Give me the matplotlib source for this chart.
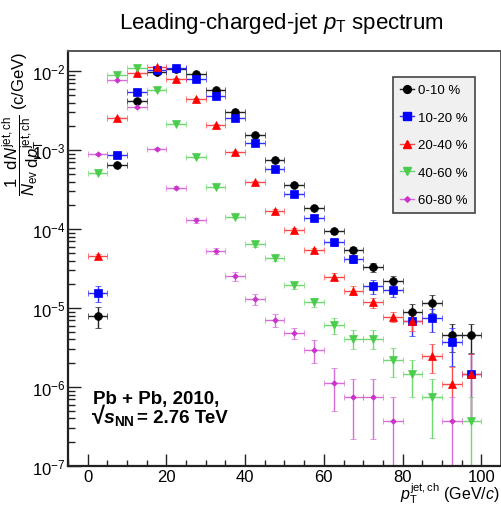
import numpy as np
import matplotlib
matplotlib.use("Agg")
import matplotlib.pyplot as plt
from matplotlib.lines import Line2D
from matplotlib.ticker import LogLocator, MultipleLocator, NullFormatter, FuncFormatter

plt.rcParams['font.family'] = ['Liberation Sans', 'DejaVu Sans']
plt.rcParams['mathtext.fontset'] = 'custom'
plt.rcParams['mathtext.rm'] = 'Liberation Sans'
plt.rcParams['mathtext.it'] = 'Liberation Sans:italic'
plt.rcParams['mathtext.bf'] = 'Liberation Sans:bold'
plt.rcParams['mathtext.bfit'] = 'Liberation Sans:italic:bold'

# bin centres (GeV/c), 5 GeV wide bins
pt = [2.5, 7.5, 12.5, 17.5, 22.5, 27.5, 32.5, 37.5, 42.5, 47.5,
      52.5, 57.5, 62.5, 67.5, 72.5, 77.5, 82.5, 87.5, 92.5, 97.5]
bin_half = 2.5

labels = ['0-10 %', '10-20 %', '20-40 %', '40-60 %', '60-80 %']

y_0_10 = [8.0e-6, 6.5e-4, 4.2e-3, 9.7e-3, 1.05e-2, 9.1e-3, 5.7e-3, 3.0e-3, 1.55e-3, 7.6e-4,
          3.6e-4, 1.86e-4, 9.4e-5, 5.5e-5, 3.3e-5, 2.2e-5, 8.8e-6, 1.17e-5, 4.5e-6, 4.5e-6]
e_0_10 = [0.30, 0.02, 0.01, 0.01, 0.01, 0.01, 0.01, 0.015, 0.02, 0.03,
          0.04, 0.05, 0.07, 0.09, 0.12, 0.17, 0.28, 0.25, 0.38, 0.40]

y_10_20 = [1.55e-5, 8.6e-4, 5.4e-3, 1.02e-2, 1.11e-2, 8.0e-3, 4.9e-3, 2.55e-3, 1.22e-3, 5.7e-4,
           2.8e-4, 1.39e-4, 6.8e-5, 4.2e-5, 1.9e-5, 1.67e-5, 6.8e-6, 7.4e-6, 3.7e-6, 1.48e-6]
e_10_20 = [0.22, 0.03, 0.01, 0.01, 0.01, 0.01, 0.015, 0.02, 0.03, 0.04,
           0.05, 0.07, 0.09, 0.12, 0.20, 0.18, 0.35, 0.33, 0.50, 0.75]

y_20_40 = [4.6e-5, 2.57e-3, 9.4e-3, 1.12e-2, 8.0e-3, 4.5e-3, 2.1e-3, 9.5e-4, 4.0e-4, 1.7e-4,
           9.8e-5, 5.4e-5, 2.5e-5, 1.66e-5, 1.18e-5, 7.8e-6, 6.9e-6, 2.5e-6, 1.08e-6, 1.48e-6]
e_20_40 = [0.05, 0.01, 0.01, 0.01, 0.01, 0.01, 0.015, 0.02, 0.03, 0.05,
           0.06, 0.08, 0.10, 0.13, 0.15, 0.15, 0.25, 0.40, 0.65, 0.75]

y_40_60 = [5.1e-4, 8.9e-3, 1.10e-2, 5.7e-3, 2.16e-3, 8.1e-4, 3.4e-4, 1.44e-4, 6.4e-5, 4.3e-5,
           1.94e-5, 1.18e-5, 6.1e-6, 4.1e-6, 4.1e-6, 2.23e-6, 1.48e-6, 7.5e-7, np.nan, 3.7e-7]
e_40_60 = [0.03, 0.01, 0.01, 0.01, 0.015, 0.02, 0.03, 0.05, 0.07, 0.08,
           0.10, 0.13, 0.22, 0.27, 0.27, 0.40, 0.50, 0.70, np.nan, 1.0]

y_60_80 = [9.0e-4, 7.7e-3, 3.47e-3, 1.02e-3, 3.34e-4, 1.29e-4, 5.3e-5, 2.54e-5, 1.3e-5, 7.1e-6,
           4.8e-6, 2.97e-6, 1.12e-6, 7.4e-7, 7.4e-7, 3.76e-7, np.nan, np.nan, 3.76e-7, np.nan]
e_60_80 = [0.03, 0.01, 0.015, 0.03, 0.05, 0.07, 0.10, 0.13, 0.17, 0.20,
           0.15, 0.32, 0.56, 0.70, 0.70, 1.0, np.nan, np.nan, 1.0, np.nan]

series = [
    (y_0_10, e_0_10, 'o', 'black', '#222222', 5.6),
    (y_10_20, e_10_20, 's', '#0000ff', '#3030ff', 5.3),
    (y_20_40, e_20_40, '^', '#ff0000', '#ff4a4a', 5.8),
    (y_40_60, e_40_60, 'v', '#4ccc4c', '#70d870', 5.8),
    (y_60_80, e_60_80, 'D', '#cc33cc', '#d86cd8', 2.8),
]

fig = plt.figure(figsize=(5.02, 5.06), dpi=100)
ax = fig.add_axes([68 / 502, 1 - 467 / 506, 433 / 502, 415 / 506])

x = np.array(pt)
handles = []
for (yv, ev, mk, col, ecol, ms), lab in zip(series, labels):
    yv = np.array(yv, dtype=float)
    ev = np.array(ev, dtype=float)
    ok = ~np.isnan(yv)
    lo = np.minimum(ev[ok], 0.999) * yv[ok]
    hi = ev[ok] * yv[ok]
    ax.errorbar(x[ok], yv[ok], yerr=[lo, hi], xerr=bin_half, fmt=mk, color=col,
                ecolor=ecol, markersize=ms, elinewidth=1.0, capsize=2.2,
                capthick=1.0, markeredgewidth=0.5)
    handles.append(Line2D([], [], color=ecol, marker=mk, markerfacecolor=col,
                          markeredgecolor=col, markersize=ms, lw=1.0))

ax.set_yscale('log')
ax.set_xlim(-5, 105)
ax.set_ylim(1e-7, 1.8e-2)

ax.xaxis.set_major_locator(MultipleLocator(20))
ax.xaxis.set_minor_locator(MultipleLocator(5))
ax.yaxis.set_major_locator(LogLocator(base=10, numticks=20))
ax.yaxis.set_minor_locator(LogLocator(base=10, subs=np.arange(2, 10), numticks=20))
ax.yaxis.set_minor_formatter(NullFormatter())
ax.yaxis.set_major_formatter(FuncFormatter(lambda v, p: r'$10^{%d}$' % round(np.log10(v))))

ax.tick_params(axis='both', which='both', direction='in', top=False, right=False,
               labelsize=12, color='#222222')
ax.tick_params(axis='y', which='major', length=9.5, width=1.0, pad=2)
ax.tick_params(axis='y', which='minor', length=5, width=1.0)
ax.tick_params(axis='x', which='major', length=8.5, width=1.0, pad=2)
ax.tick_params(axis='x', which='minor', length=4, width=1.0)

for s in ['left', 'bottom']:
    ax.spines[s].set_linewidth(1.6)
    ax.spines[s].set_color('#222222')
for s in ['top', 'right']:
    ax.spines[s].set_linewidth(1.4)
    ax.spines[s].set_color('#555555')

fig.text(281 / 502, 1 - 28.5 / 506, r'Leading-charged-jet $p_{\mathrm{T}}$ spectrum',
         ha='center', va='baseline', fontsize=16)

fig.text(500 / 502, 1 - 500 / 506, r'$p_{\mathrm{T}}^{\mathrm{jet,ch}}$ (GeV/$c$)',
         ha='right', va='baseline', fontsize=11.5)

fig.text(24 / 502, 1 - 52 / 506,
         r'$\dfrac{1}{N_{\mathrm{ev}}}\dfrac{\mathrm{d}N^{\mathrm{jet,ch}}}{\mathrm{d}p_{\mathrm{T}}^{\mathrm{jet,ch}}}$ (c/GeV)',
         rotation=90, ha='center', va='top', fontsize=12)

fig.text(93 / 502, 1 - 404 / 506, 'Pb + Pb, 2010,', ha='left', va='baseline',
         fontsize=13.5, fontweight='bold')
fig.text(92 / 502, 1 - 424 / 506, '\u221a', ha='left', va='baseline',
         fontsize=17, fontweight='bold')
fig.text(103 / 502, 1 - 423 / 506, r'$\mathbfit{s}_{\mathbf{NN}}$', ha='left',
         va='baseline', fontsize=14)
fig.text(137 / 502, 1 - 423 / 506, '= 2.76 TeV', ha='left',
         va='baseline', fontsize=13.5, fontweight='bold')

leg = ax.legend(handles, labels, loc='upper left', bbox_to_anchor=(392.7 / 502, 1 - 78 / 506),
                bbox_transform=fig.transFigure, borderaxespad=0, fontsize=9.5,
                frameon=True, fancybox=False, handlelength=1.1, handletextpad=0.3,
                labelspacing=1.15, borderpad=0.55, numpoints=1)
leg.get_frame().set_facecolor('#f0f0f0')
leg.get_frame().set_edgecolor('#444444')
leg.get_frame().set_linewidth(1.2)
leg.get_frame().set_alpha(1)

fig.savefig('out.png', dpi=100)
